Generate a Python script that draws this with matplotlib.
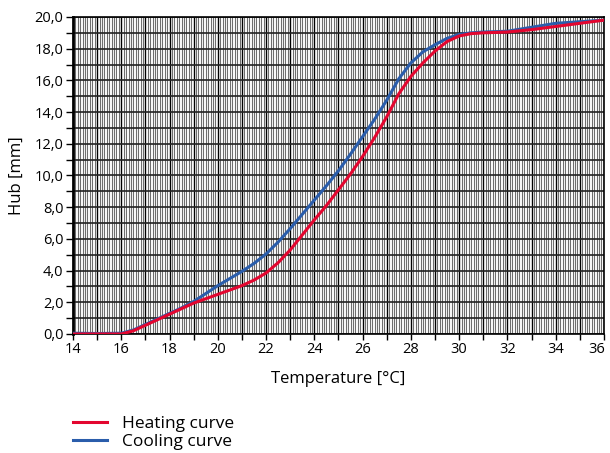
import numpy as np
import matplotlib
matplotlib.use("Agg")
import matplotlib.pyplot as plt
import matplotlib.transforms as mtransforms
from matplotlib.ticker import MultipleLocator, FuncFormatter

plt.rcParams['font.family'] = ['Open Sans', 'DejaVu Sans']

# heating curve
temp_heat = [14, 15, 16, 16.5, 17, 18, 19, 20, 21, 21.5, 22, 22.5, 23, 23.5, 24, 24.5,
             25, 25.5, 26, 26.5, 27, 27.5, 28, 28.5, 29, 29.5, 30, 30.5, 31, 32, 33, 34, 35, 36]
hub_heat = [0.0, 0.0, 0.0, 0.2, 0.55, 1.25, 1.95, 2.5, 3.05, 3.4, 3.85, 4.5, 5.3, 6.25, 7.2, 8.1,
            9.1, 10.1, 11.2, 12.4, 13.7, 15.15, 16.25, 17.1, 17.85, 18.45, 18.8, 18.95, 19.0,
            19.05, 19.2, 19.4, 19.6, 19.8]

# cooling curve
temp_cool = [14, 15, 16, 16.5, 17, 18, 18.5, 19, 19.5, 20, 20.5, 21, 21.5, 22, 22.5, 23, 23.5,
             24, 24.5, 25, 25.5, 26, 26.5, 27, 27.5, 28, 28.5, 29, 29.5, 30, 30.5, 31, 32, 33,
             34, 35, 36]
hub_cool = [0.05, 0.03, 0.05, 0.25, 0.6, 1.3, 1.65, 2.05, 2.55, 3.05, 3.5, 3.95, 4.45, 5.05, 5.8,
            6.65, 7.55, 8.45, 9.35, 10.3, 11.35, 12.45, 13.55, 14.75, 16.1, 17.1, 17.8, 18.25,
            18.65, 18.9, 19.0, 19.05, 19.1, 19.35, 19.6, 19.7, 19.8]

fig = plt.figure(figsize=(6.1, 4.53), dpi=100)
ax = fig.add_axes([0.1197, 0.2627, 0.8703, 0.6998])

ax.plot(temp_heat, hub_heat, color='#e3062f', lw=2.2, label='Heating curve', zorder=4)
ax.plot(temp_cool, hub_cool, color='#2a5dab', lw=2.2, label='Cooling curve', zorder=3)

ax.set_xlim(14, 36)
ax.set_ylim(0, 20)
ax.set_xticks(np.arange(14, 37, 1))
ax.xaxis.set_minor_locator(MultipleLocator(0.1))
ax.yaxis.set_major_locator(MultipleLocator(1))
ax.xaxis.set_major_formatter(FuncFormatter(lambda v, p: '%d' % v if round(v) % 2 == 0 else ''))
ax.yaxis.set_major_formatter(FuncFormatter(
    lambda v, p: ('%.1f' % v).replace('.', ',') if round(v) % 2 == 0 else ''))

ax.grid(which='minor', axis='x', color='#6e6e6e', lw=0.8)
ax.grid(which='major', axis='x', color='black', lw=1.0)
ax.grid(which='major', axis='y', color='#222222', lw=1.2)
ax.set_axisbelow(True)

ax.tick_params(which='major', direction='out', length=4, width=1, colors='black',
               labelsize=10.5, pad=2)
ax.tick_params(which='minor', length=0)
ax.tick_params(axis='y', length=5)
ax.spines['left'].set_linewidth(2.0)
ax.spines['bottom'].set_linewidth(1.2)
ax.spines['top'].set_linewidth(1.2)
ax.spines['right'].set_linewidth(1.2)
for s in ax.spines.values():
    s.set_color('black')

ax.set_xlabel('Temperature [°C]', fontsize=12, labelpad=10)
ax.set_ylabel('Hub [mm]', fontsize=12, labelpad=7)

# nudge the "36" label inward so it stays inside the figure
fig.canvas.draw()
for lab in ax.get_xticklabels():
    if lab.get_text() == '36':
        lab.set_transform(lab.get_transform() +
                          mtransforms.ScaledTranslation(-5 / 72, 0, fig.dpi_scale_trans))

fig.legend(loc='upper left', bbox_to_anchor=(0.1197, 0.081), frameon=False,
           fontsize=12.5, handlelength=1.95, handletextpad=0.86, labelspacing=0.1,
           borderaxespad=0, borderpad=0)

fig.savefig('out.png', dpi=100)
